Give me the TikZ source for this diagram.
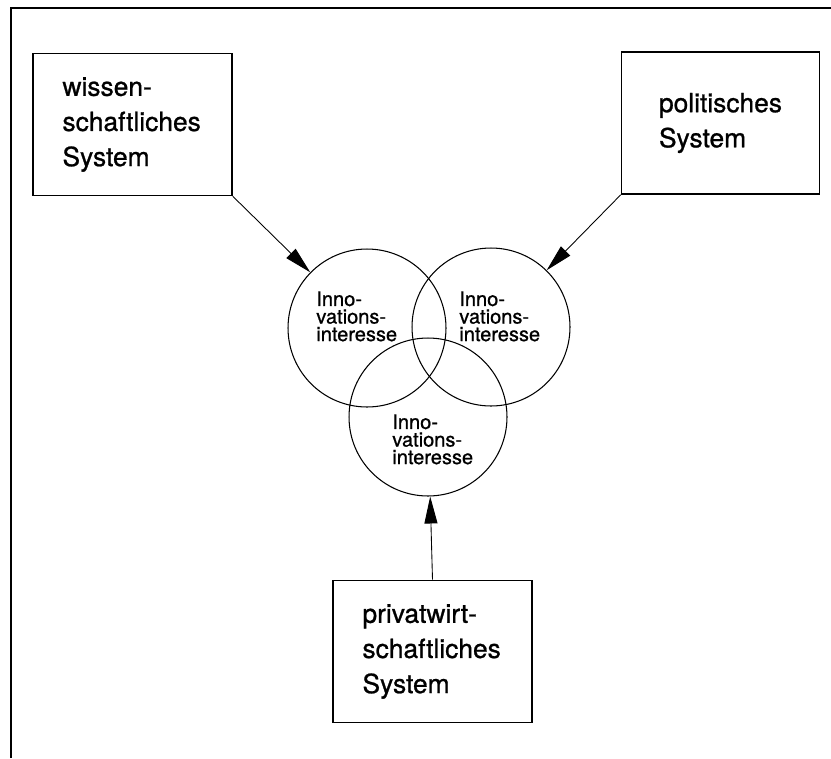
\documentclass[tikz,border=0pt]{standalone}
\usepackage{fontspec}
\setmainfont[FakeBold=0.9,AutoFakeBold=0.9]{TeX Gyre Heros}
\usetikzlibrary{arrows.meta}

\tikzset{
  sysbox/.style={draw, rectangle, line width=0.9pt, minimum height=2.84cm,
    text width=2.8cm, inner xsep=0.59cm, align=left,
    font=\fontsize{15pt}{20pt}\selectfont\bfseries},
  venn/.style={draw, circle, line width=0.6pt, minimum size=3.16cm, inner sep=0pt},
  venntext/.style={anchor=north west, inner sep=0pt, align=left,
    font=\fontsize{11.4pt}{10pt}\selectfont\bfseries},
  feed/.style={line width=0.5pt, -{Triangle[length=0.54cm, width=0.26cm]}}
}

\begin{document}
\begin{tikzpicture}[x=0.02cm, y=-0.02cm]
    \useasboundingbox (0,0) rectangle (831,758);
    \draw[line width=1.1pt] (11,758) -- (11,8) -- (831,8);

    % the three systems
    \node[sysbox] (wiss) at (132.5,124.5) {wissen-\\schaftliches\\System};
    \node[sysbox, text width=2.46cm, inner xsep=0.75cm] (pol) at (720.5,123) {politisches\\System};
    \node[sysbox] (priv) at (432.5,651.5) {privatwirt-\\schaftliches\\System};

    % overlapping interests
    \node[venn] (c1) at (367,328) {};
    \node[venn] (c2) at (491,327) {};
    \node[venn] (c3) at (428,417) {};
    \node[venntext] (t1) at (316,291) {Inno-\\vations-\\interesse};
    \node[venntext] (t2) at (459,291) {Inno-\\vations-\\interesse};
    \node[venntext] (t3) at (392,414) {Inno-\\vations-\\interesse};

    \draw[feed] (wiss.south east) -- (c1);
    \draw[feed] (pol.south west) -- (c2);
    \draw[feed] (priv.north) -- (c3);
\end{tikzpicture}
\end{document}
